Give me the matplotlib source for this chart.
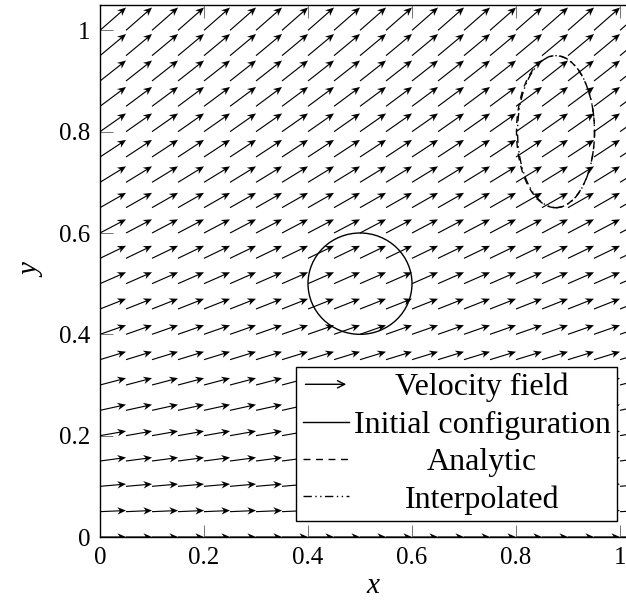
import numpy as np
import matplotlib.pyplot as plt
from matplotlib.patches import Ellipse, FancyArrowPatch
from matplotlib.legend_handler import HandlerBase
from matplotlib.lines import Line2D
from matplotlib.quiver import Quiver

plt.rcParams['font.family'] = ['Liberation Serif', 'DejaVu Serif']

# %% data
# grid where the arrows start
grid_x = [0.0, 0.05, 0.1, 0.15, 0.2, 0.25, 0.3, 0.35, 0.4, 0.45, 0.5,
          0.55, 0.6, 0.65, 0.7, 0.75, 0.8, 0.85, 0.9, 0.95, 1.0]
grid_y = [0.0, 0.05, 0.1, 0.15, 0.2, 0.25, 0.3, 0.35, 0.4, 0.45, 0.5,
          0.55, 0.6, 0.65, 0.7, 0.75, 0.8, 0.85, 0.9, 0.95, 1.0]
# velocity components for each row (same along a row)
row_u = [1.0, 1.0, 1.0, 1.0, 1.0, 1.0, 1.0, 1.0, 1.0, 1.0, 1.0,
         1.0, 1.0, 1.0, 1.0, 1.0, 1.0, 1.0, 1.0, 1.0, 1.0]
row_v = [0.0, 0.045, 0.09, 0.135, 0.18, 0.225, 0.27, 0.315, 0.36, 0.405, 0.45,
         0.495, 0.54, 0.585, 0.63, 0.675, 0.72, 0.765, 0.81, 0.855, 0.9]

# initial circle and deformed shapes (center, width, height)
init_center = (0.5, 0.5)
init_size = (0.2, 0.2)
analytic_center = (0.876, 0.80)
analytic_size = (0.15, 0.30)
interp_center = (0.877, 0.80)
interp_size = (0.148, 0.30)

xticks = [0, 0.2, 0.4, 0.6, 0.8, 1]
xticklabels = ['0', '0.2', '0.4', '0.6', '0.8', '1']
yticks = [0, 0.2, 0.4, 0.6, 0.8, 1]
yticklabels = ['0', '0.2', '0.4', '0.6', '0.8', '1']

dash = (0, (5, 4))
dashdot = (0, (6, 2.5, 1, 2.5, 1, 2.5))


class ArrowHandler(HandlerBase):
    def create_artists(self, legend, orig_handle, xdescent, ydescent,
                       width, height, fontsize, trans):
        y = height / 2 - ydescent
        a = FancyArrowPatch((-xdescent, y), (width - xdescent, y),
                            arrowstyle='->', mutation_scale=13, lw=1.0,
                            color='k', transform=trans)
        return [a]


# %% figure
fig = plt.figure(figsize=(6.26, 6.09), dpi=100)
ax = fig.add_axes([100 / 626, 72 / 609, 546 / 626, 532 / 609])

X, Y = np.meshgrid(grid_x, grid_y)
U = np.repeat(np.array(row_u)[:, None], len(grid_x), axis=1)
V = np.repeat(np.array(row_v)[:, None], len(grid_x), axis=1)
q = ax.quiver(X, Y, U, V, angles='xy', scale_units='xy', scale=20,
              width=0.0021, headwidth=6.5, headlength=7.5, headaxislength=5.5,
              color='k', label='Velocity field')

c0 = Ellipse(init_center, init_size[0], init_size[1], fill=False,
             ec='k', lw=1.0, ls='-', label='Initial configuration')
c1 = Ellipse(analytic_center, analytic_size[0], analytic_size[1], fill=False,
             ec='k', lw=1.0, ls=dash, label='Analytic')
c2 = Ellipse(interp_center, interp_size[0], interp_size[1], fill=False,
             ec='k', lw=1.0, ls=dashdot, label='Interpolated')
for p in (c0, c1, c2):
    ax.add_patch(p)

ax.set_xlim(0, 1.05)
ax.set_ylim(0, 1.05)
ax.set_xticks(xticks)
ax.set_xticklabels(xticklabels)
ax.set_yticks(yticks)
ax.set_yticklabels(yticklabels)
ax.tick_params(direction='in', top=True, right=True, length=9, width=0.7,
               color='0.45', labelsize=18, pad=7)
for s in ax.spines.values():
    s.set_linewidth(1.0)
ax.set_xlabel('x', fontsize=21, fontstyle='italic', labelpad=3)
ax.set_ylabel('y', fontsize=21, fontstyle='italic', labelpad=10)

h_init = Line2D([], [], color='k', lw=1.0, ls='-')
h_an = Line2D([], [], color='k', lw=1.0, ls=dash)
h_int = Line2D([], [], color='k', lw=1.0, ls=dashdot)
leg = ax.legend([q, h_init, h_an, h_int],
                ['Velocity field', 'Initial configuration', 'Analytic', 'Interpolated'],
                handler_map={Quiver: ArrowHandler()},
                loc='lower right', bbox_to_anchor=(0.947, 0.030),
                fontsize=23, frameon=True, fancybox=False, edgecolor='k',
                framealpha=1, borderaxespad=0, borderpad=0.2,
                labelspacing=0.25, handlelength=1.45, handletextpad=0.15)
leg.get_frame().set_linewidth(1.0)

# centre the legend texts like the original
fig.canvas.draw()
r = fig.canvas.get_renderer()
widths = [t.get_window_extent(r).width for t in leg.get_texts()]
wmax = max(widths)
for t, w in zip(leg.get_texts(), widths):
    t.set_position(((wmax - w) / 2, 0))

fig.savefig('out.png', dpi=100)
